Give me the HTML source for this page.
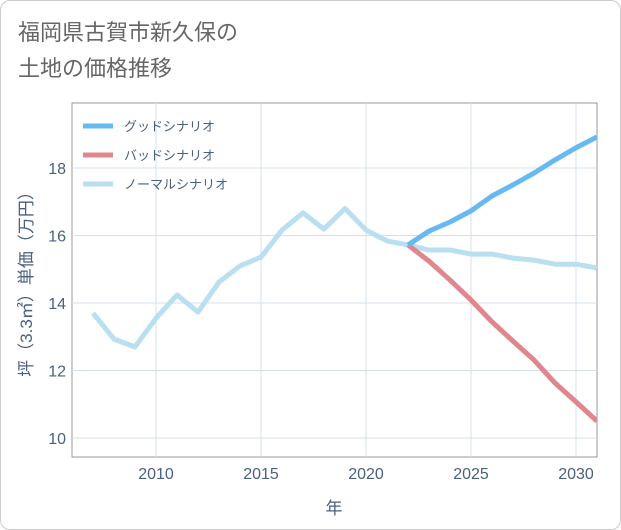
<!DOCTYPE html>
<html><head><meta charset="utf-8"><style>
body{margin:0;background:#fff;font-family:"Liberation Sans","Noto Sans CJK JP",sans-serif;}
#wrap{position:relative;width:619px;height:528px;border:1px solid #ccc;border-radius:10px;overflow:hidden;background:#fff}
</style></head><body>
<div id="wrap">
<svg id="chart" width="621" height="530" style="position:absolute;left:-1px;top:-1px">
<text x="18" y="40" font-size="22" fill="#666" font-family="Liberation Sans,Noto Sans CJK JP,sans-serif">福岡県古賀市新久保の</text>
<text x="18" y="76" font-size="22" fill="#666" font-family="Liberation Sans,Noto Sans CJK JP,sans-serif">土地の価格推移</text>
<g id="grid"></g><g id="lines"></g><g id="axes"></g>
</svg>
</div>
<script>
const years=[2007,2008,2009,2010,2011,2012,2013,2014,2015,2016,2017,2018,2019,2020,2021,2022,2023,2024,2025,2026,2027,2028,2029,2030,2031];
const normalVals=[13.7,12.93,12.7,13.55,14.24,13.73,14.62,15.1,15.36,16.16,16.67,16.19,16.8,16.16,15.84,15.72,15.57,15.57,15.45,15.45,15.33,15.27,15.15,15.15,15.04];
const futureYears=[2022,2023,2024,2025,2026,2027,2028,2029,2030,2031];
const goodVals=[15.72,16.13,16.4,16.73,17.17,17.5,17.85,18.24,18.6,18.92];
const badVals=[15.72,15.24,14.68,14.09,13.44,12.87,12.31,11.63,11.07,10.5];
const xTicks=[2010,2015,2020,2025,2030];
const yTicks=[10,12,14,16,18];
const legendLabels=["グッドシナリオ","バッドシナリオ","ノーマルシナリオ"];
const colors=["#67b9f2","#e0878e","#badff0"];
const NS="http://www.w3.org/2000/svg";
const L=72,R=597,T=103,B=457;
const xs=y=>156+(y-2010)*21;
const ys=v=>438-(v-10)*33.75;
function mk(tag,attrs,parent){const e=document.createElementNS(NS,tag);for(const k in attrs)e.setAttribute(k,attrs[k]);parent.appendChild(e);return e;}
const grid=document.getElementById('grid'),lines=document.getElementById('lines'),axes=document.getElementById('axes');
let bg=mk('rect',{x:L,y:T,width:R-L,height:B-T,fill:'#fff',stroke:'#999','stroke-width':1},grid);


xTicks.forEach(t=>{let g=mk('line',{x1:xs(t),x2:xs(t),y1:T,y2:B,stroke:'#d5e0ea'},grid);


let tx=mk('text',{x:xs(t),y:B+22,'font-size':16,fill:'#4a6080','text-anchor':'middle'},axes);tx.textContent=t;

});
yTicks.forEach(t=>{let g=mk('line',{x1:L,x2:R,y1:ys(t),y2:ys(t),stroke:'#d5e0ea'},grid);


let tx=mk('text',{x:L-6,y:ys(t)+6,'font-size':16,fill:'#4a6080','text-anchor':'end'},axes);tx.textContent=t;

});
function path(xv,yv){return xv.map((x,i)=>(i?'L':'M')+xs(x)+','+ys(yv[i])).join('');}
const series=[[years,normalVals,2,'normal-line'],[futureYears,badVals,1,'bad-line'],[futureYears,goodVals,0,'good-line']];
const cp=mk('clipPath',{id:'cp'},lines);mk('rect',{x:L,y:T,width:R-L,height:B-T},cp);
series.forEach(s=>{let p=mk('path',{d:path(s[0],s[1]),fill:'none',stroke:colors[s[2]],'stroke-width':5,'stroke-linejoin':'round','clip-path':'url(#cp)'},lines);

});
legendLabels.forEach((lab,i)=>{let y=126+i*29;
let ln=mk('line',{x1:83,x2:113,y1:y,y2:y,stroke:colors[i],'stroke-width':5},axes);


let tx=mk('text',{x:124,y:y+5,'font-size':13,fill:'#4a6080'},axes);tx.textContent=lab;

});
let xt=mk('text',{x:334,y:514,'font-size':17,fill:'#4a6080','text-anchor':'middle'},axes);xt.textContent='年';


let yt=mk('text',{x:0,y:0,'font-size':17,fill:'#4a6080','text-anchor':'middle',transform:'translate(32,280) rotate(-90)'},axes);yt.textContent='坪（3.3㎡）単価（万円）';


</script>
</body></html>
